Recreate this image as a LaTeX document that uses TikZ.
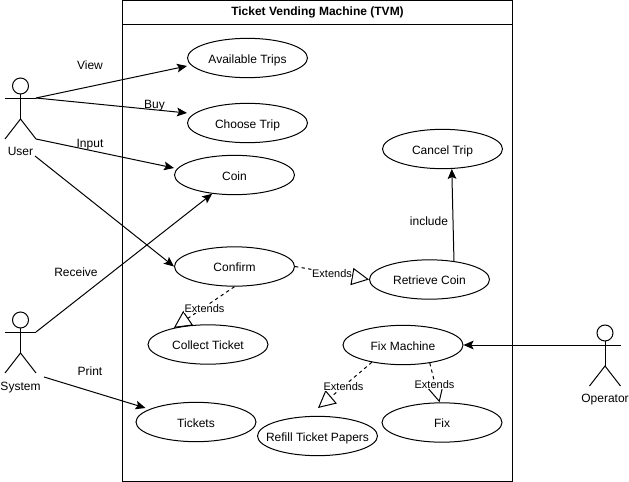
\documentclass[tikz,border=0pt]{standalone}
\usepackage{fontspec}
\setmainfont{Liberation Sans}
\usetikzlibrary{shapes.geometric,arrows.meta}
\newcommand{\uctext}[1]{\raisebox{-3.9pt}[0pt][0pt]{\makebox[0pt]{#1}}}
\tikzset{
  usecase/.style={ellipse,draw,fill=white,minimum width=90pt,minimum height=29.5pt,inner sep=0pt,font=\fontsize{9}{11}\selectfont},
  lbl/.style={inner sep=0pt,text height=6.45pt,text depth=0pt,font=\fontsize{9}{11}\selectfont},
  extlbl/.style={inner sep=0.4pt,text height=5.9pt,text depth=0pt,fill=white,font=\fontsize{8.25}{10}\selectfont},
  flow/.style={-{Stealth[length=7.5pt,width=6.5pt,inset=1.5pt]}},
  extend/.style={dash pattern=on 2.5pt off 2.5pt,-{Triangle[open,length=13pt,width=13pt]}},
  stick/.style={line width=0.75pt}
}
\newcommand{\stickman}[2]{%
  \draw[stick] (#1,#2) circle[radius=6pt];
  \draw[stick] (#1,#2+8) -- (#1,#2+33);
  \draw[stick] (#1-15.5,#2+12) -- (#1+15.5,#2+12);
  \draw[stick] (#1-15.5,#2+53) -- (#1,#2+33) -- (#1+15.5,#2+53);
}
\begin{document}
\begin{tikzpicture}[x=0.75pt,y=-0.75pt,line width=0.75pt]
\useasboundingbox (0,0) rectangle (629,482);
\fill[white] (0,0) rectangle (629,482);
% system boundary
\node[draw,minimum width=292.5pt,minimum height=361pt,inner sep=0pt,anchor=north west] (tvm) at (122,0) {};
\node[draw,minimum width=292.5pt,minimum height=18pt,inner sep=0pt,anchor=north west,font=\fontsize{9}{11}\selectfont\bfseries] (tvmtitle) at (122,0) {Ticket Vending Machine (TVM)};
% actors
\stickman{20.5}{86}
\stickman{20.5}{320}
\stickman{605}{333}
\node[lbl] (userlbl) at (20.5,151) {User};
\node[lbl] (systemlbl) at (20.5,386) {System};
\node[lbl] (operatorlbl) at (605,398) {Operator};
\coordinate (userarm) at (36,98);
\coordinate (userleg) at (36,139);
\coordinate (userlow) at (35,156);
\coordinate (sysarm) at (36,332);
\coordinate (syslow) at (44,377);
\coordinate (oparm) at (590,345);
% use cases
\node[usecase] (avail) at (247.5,58) {\uctext{Available Trips}};
\node[usecase] (choose) at (247.5,123) {\uctext{Choose Trip}};
\node[usecase] (coin) at (234.5,175) {\uctext{Coin}};
\node[usecase] (confirm) at (234.5,266.5) {\uctext{Confirm}};
\node[usecase] (collect) at (208,344.5) {\uctext{Collect Ticket}};
\node[usecase] (tickets) at (196,422) {\uctext{Tickets}};
\node[usecase] (cancel) at (442.5,149) {\uctext{Cancel Trip}};
\node[usecase] (retrieve) at (429.5,279.5) {\uctext{Retrieve Coin}};
\node[usecase] (fixm) at (403,345) {\uctext{Fix Machine}};
\node[usecase] (fix) at (442,422.5) {\uctext{Fix}};
\node[usecase] (refill) at (317.5,436) {\uctext{Refill Ticket Papers}};
\coordinate (refilltip) at (318,408);
% connectors
\draw[flow] (userarm) -- ([yshift=-6pt]avail.west);
\draw[flow] (userarm) -- ([yshift=7.5pt]choose.west);
\draw[flow] (userleg) -- ([yshift=5.25pt]coin.west);
\draw[flow] (userlow) -- (confirm.west);
\draw[flow] (sysarm) -- (coin.220);
\draw[flow] (syslow) -- ([xshift=7.5pt,yshift=10.5pt]tickets.west);
\draw[flow] (oparm) -- (fixm.east);
\draw[flow] (retrieve.37) -- (cancel.295);
\draw[extend] (confirm.east) -- (retrieve.west);
\draw[extend] (confirm.south) -- (collect.154);
\draw[extend] (fixm.-151) -- (refilltip);
\draw[extend] (fixm.-34) -- (fix.97);
% labels
\node[lbl] (lview) at (90,65) {View};
\node[lbl] (lbuy) at (154.5,104) {Buy};
\node[lbl] (linput) at (90,143) {Input};
\node[lbl] (lreceive) at (76,272) {Receive};
\node[lbl] (lprint) at (90,371.5) {Print};
\node[lbl] (linclude) at (429,221) {include};
\node[extlbl] (e1) at (332,273.5) {Extends};
\node[extlbl] (e2) at (204.5,308.5) {Extends};
\node[extlbl] (e3) at (343.5,386.5) {Extends};
\node[extlbl] (e4) at (434.5,384.5) {Extends};
\end{tikzpicture}
\end{document}
